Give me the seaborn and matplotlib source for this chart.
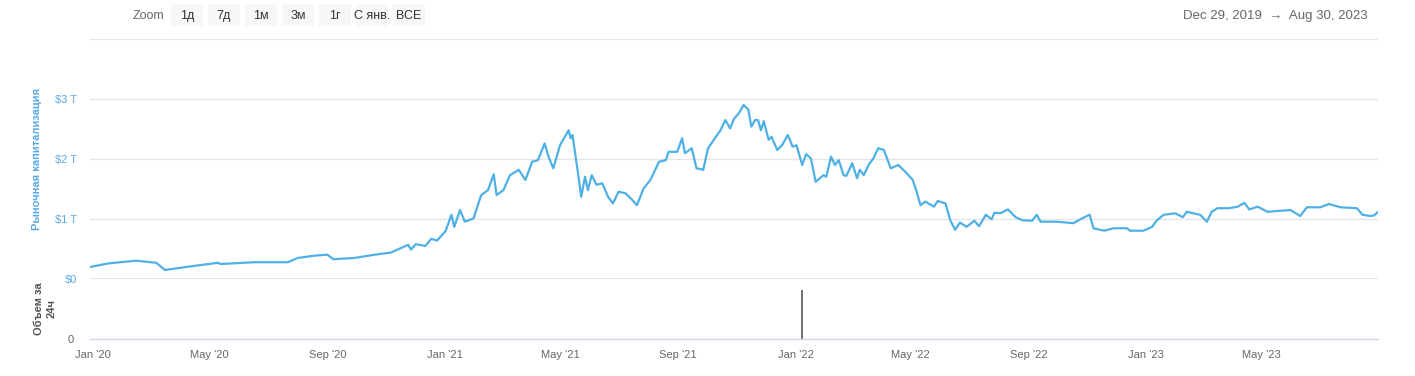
import numpy as np
import pandas as pd
import matplotlib
matplotlib.use("Agg")
import matplotlib.pyplot as plt
import matplotlib.dates as mdates
from matplotlib.patches import Rectangle
import seaborn as sns

# market cap, trillions of USD
cap_dates = [
    "2019-12-29", "2020-01-17", "2020-02-15", "2020-03-07", "2020-03-16", "2020-04-09",
    "2020-05-10", "2020-05-13", "2020-06-17", "2020-07-22", "2020-08-01", "2020-08-19",
    "2020-09-01", "2020-09-07", "2020-09-29", "2020-10-20", "2020-11-06", "2020-11-24",
    "2020-11-27", "2020-12-02", "2020-12-12", "2020-12-18", "2020-12-24", "2021-01-02",
    "2021-01-08", "2021-01-11", "2021-01-17", "2021-01-22", "2021-01-31", "2021-02-08",
    "2021-02-15", "2021-02-21", "2021-02-24", "2021-03-03", "2021-03-10", "2021-03-19",
    "2021-03-26", "2021-04-02", "2021-04-08", "2021-04-15", "2021-04-19", "2021-04-24",
    "2021-05-01", "2021-05-10", "2021-05-12", "2021-05-14", "2021-05-17", "2021-05-20",
    "2021-05-23", "2021-05-27", "2021-05-30", "2021-06-03", "2021-06-08", "2021-06-14",
    "2021-06-20", "2021-06-25", "2021-07-01", "2021-07-08", "2021-07-15", "2021-07-20",
    "2021-07-27", "2021-08-03", "2021-08-12", "2021-08-19", "2021-08-22", "2021-08-31",
    "2021-09-05", "2021-09-08", "2021-09-15", "2021-09-20", "2021-09-27", "2021-10-02",
    "2021-10-08", "2021-10-15", "2021-10-20", "2021-10-25", "2021-10-29", "2021-11-03",
    "2021-11-08", "2021-11-13", "2021-11-16", "2021-11-20", "2021-11-23", "2021-11-26",
    "2021-11-29", "2021-12-04", "2021-12-07", "2021-12-13", "2021-12-18", "2021-12-24",
    "2021-12-29", "2022-01-02", "2022-01-08", "2022-01-12", "2022-01-17", "2022-01-22",
    "2022-01-30", "2022-02-02", "2022-02-07", "2022-02-11", "2022-02-15", "2022-02-20",
    "2022-02-23", "2022-03-01", "2022-03-06", "2022-03-09", "2022-03-13", "2022-03-18",
    "2022-03-23", "2022-03-28", "2022-04-03", "2022-04-10", "2022-04-18", "2022-04-25",
    "2022-05-03", "2022-05-07", "2022-05-11", "2022-05-16", "2022-05-25", "2022-05-29",
    "2022-06-06", "2022-06-11", "2022-06-16", "2022-06-21", "2022-06-28", "2022-07-06",
    "2022-07-11", "2022-07-18", "2022-07-24", "2022-07-27", "2022-08-02", "2022-08-10",
    "2022-08-18", "2022-08-25", "2022-09-04", "2022-09-09", "2022-09-13", "2022-09-30",
    "2022-10-17", "2022-10-26", "2022-11-03", "2022-11-07", "2022-11-18", "2022-11-28",
    "2022-12-12", "2022-12-15", "2022-12-29", "2023-01-07", "2023-01-12", "2023-01-19",
    "2023-01-31", "2023-02-08", "2023-02-12", "2023-02-26", "2023-03-05", "2023-03-10",
    "2023-03-16", "2023-03-28", "2023-04-06", "2023-04-13", "2023-04-18", "2023-04-27",
    "2023-05-07", "2023-05-24", "2023-05-31", "2023-06-10", "2023-06-17", "2023-07-01",
    "2023-07-10", "2023-07-22", "2023-08-08", "2023-08-14", "2023-08-22", "2023-08-26",
    "2023-08-30",
]
cap_values = [
    0.20, 0.26, 0.305, 0.27, 0.15, 0.205,
    0.27, 0.25, 0.28, 0.28, 0.35, 0.39,
    0.405, 0.33, 0.35, 0.405, 0.44, 0.57,
    0.49, 0.58, 0.55, 0.67, 0.64, 0.80,
    1.07, 0.87, 1.15, 0.955, 1.01, 1.40,
    1.48, 1.745, 1.40, 1.48, 1.73, 1.82,
    1.65, 1.955, 1.98, 2.26, 2.04, 1.845,
    2.23, 2.48, 2.345, 2.40, 2.07, 1.73,
    1.37, 1.705, 1.48, 1.73, 1.57, 1.595,
    1.37, 1.26, 1.455, 1.43, 1.32, 1.23,
    1.51, 1.65, 1.955, 1.98, 2.12, 2.12,
    2.345, 2.095, 2.18, 1.845, 1.82, 2.18,
    2.32, 2.48, 2.65, 2.51, 2.67, 2.76,
    2.90, 2.82, 2.54, 2.65, 2.65, 2.48,
    2.63, 2.32, 2.37, 2.15, 2.23, 2.40,
    2.205, 2.23, 1.90, 2.08, 2.01, 1.62,
    1.73, 1.705, 2.04, 1.90, 1.98, 1.73,
    1.72, 1.93, 1.68, 1.82, 1.73, 1.90,
    2.01, 2.18, 2.15, 1.845, 1.90, 1.79,
    1.65, 1.455, 1.23, 1.29, 1.205, 1.30,
    1.26, 0.98, 0.82, 0.94, 0.87, 0.97,
    0.88, 1.07, 0.995, 1.105, 1.095, 1.16,
    1.03, 0.98, 0.97, 1.07, 0.955, 0.955,
    0.93, 1.01, 1.07, 0.845, 0.805, 0.845,
    0.845, 0.805, 0.805, 0.87, 0.98, 1.07,
    1.095, 1.03, 1.12, 1.07, 0.955, 1.12,
    1.18, 1.18, 1.205, 1.27, 1.16, 1.205,
    1.12, 1.14, 1.15, 1.05, 1.195, 1.195,
    1.25, 1.195, 1.18, 1.07, 1.05, 1.06,
    1.12,
]

# 24h volume, relative to the panel height
vol_dates = ["2022-01-08"]
vol_values = [0.82]

cap_ticks = [0, 1, 2, 3, 4]
cap_labels = ["$0", "$1 T", "$2 T", "$3 T", ""]
zoom_buttons = ["1д", "7д", "1м", "3м", "1г", "С янв.", "ВСЕ"]
range_text = "Dec 29, 2019  \u2192  Aug 30, 2023"

sns.set_theme(style="white")
plt.rcParams["font.family"] = ["Liberation Sans", "DejaVu Sans"]

W, H = 1415, 376
LINE = "#4fb0e6"
BLUE_TXT = "#5aa9e6"
GREY_TXT = "#666666"

df = pd.DataFrame({"date": pd.to_datetime(cap_dates), "cap": cap_values})
vol = pd.DataFrame({"date": pd.to_datetime(vol_dates), "vol": vol_values})

fig = plt.figure(figsize=(W / 100, H / 100), dpi=100)
fig.patch.set_facecolor("white")


def fx(px):
    return px / W


def fy(py):
    return 1 - py / H


left, right = 90, 1378
ax = fig.add_axes([fx(left), fy(279), fx(right - left), (279 - 39) / H])
axv = fig.add_axes([fx(left), fy(339), fx(right - left), (339 - 279) / H], sharex=ax)

sns.lineplot(data=df, x="date", y="cap", ax=ax, color=LINE, linewidth=1.6)

ax.set_ylim(0, 4)
ax.set_yticks(cap_ticks)
ax.set_yticklabels(cap_labels)
ax.yaxis.grid(True, color="#e6e6e6", linewidth=1)
ax.axhline(0, color="#e6e6e6", linewidth=2, zorder=0)
ax.tick_params(axis="y", length=0, pad=9, labelsize=8, labelcolor=BLUE_TXT)
ax.tick_params(axis="x", length=0, labelbottom=False)
ax.set_xlabel("")
ax.set_ylabel("Рыночная капитализация", color=BLUE_TXT, fontsize=8,
              fontweight="bold")
ax.yaxis.set_label_coords(-0.0373, 0.5)
for s in ax.spines.values():
    s.set_visible(False)

axv.vlines(vol["date"], 0, vol["vol"], color="#666666", linewidth=1.3)
axv.set_ylim(0, 1)
axv.set_yticks([0])
axv.set_yticklabels(["0"])
axv.tick_params(axis="y", length=0, pad=12, labelsize=8, labelcolor=GREY_TXT)
axv.set_ylabel("Объем за\n24ч", color="#555555", fontsize=8, fontweight="bold",
               linespacing=1.35)
axv.yaxis.set_label_coords(-0.0256, 0.5)
for name, s in axv.spines.items():
    s.set_visible(name == "bottom")
axv.spines["bottom"].set_color("#ccd6eb")
axv.spines["bottom"].set_linewidth(1)

axv.set_xlim(pd.Timestamp("2019-12-29"), pd.Timestamp("2023-08-30"))
axv.xaxis.set_major_locator(mdates.MonthLocator(bymonth=[1, 5, 9]))
axv.xaxis.set_major_formatter(mdates.DateFormatter("%b '%y"))
axv.tick_params(axis="x", direction="out", length=8, width=1, color="#ccd6eb",
                labelsize=8, labelcolor=GREY_TXT, pad=0)
axv.set_xlabel("")

# range selector header
fig.text(fx(148), fy(16), "Zoom", ha="center", va="center", fontsize=9, color=GREY_TXT)
for i, lab in enumerate(zoom_buttons):
    x0 = 171 + i * 37
    fig.patches.append(Rectangle((fx(x0), fy(26)), fx(32), 22 / H,
                                 transform=fig.transFigure, facecolor="#f7f7f7",
                                 edgecolor="none", zorder=0))
    fig.text(fx(x0 + 16), fy(16), lab, ha="center", va="center", fontsize=9,
             color="#333333")
fig.text(fx(1368), fy(16), range_text, ha="right", va="center", fontsize=9.5,
         color=GREY_TXT)

fig.savefig("out.png", dpi=100, facecolor="white")
